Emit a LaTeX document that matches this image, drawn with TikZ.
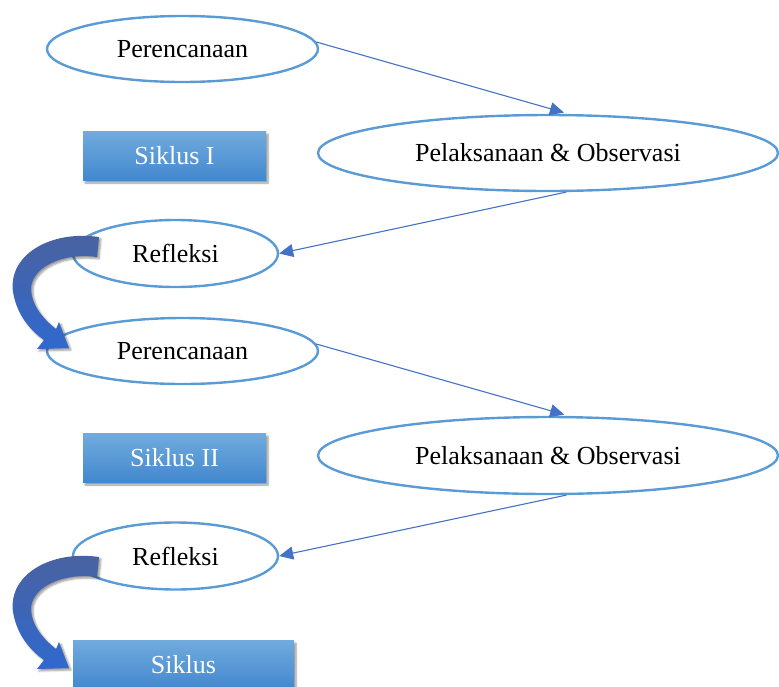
\documentclass[tikz,border=0pt]{standalone}
\usepackage{fontspec}
\setmainfont{Liberation Serif}
\usepackage{tikz}
\usetikzlibrary{shapes.geometric,arrows.meta,shadows.blur}
\definecolor{ringblue}{RGB}{91,155,213}
\definecolor{lineblue}{RGB}{68,114,196}
\definecolor{boxtop}{RGB}{114,171,222}
\definecolor{boxbottom}{RGB}{66,136,206}
\definecolor{bendtop}{RGB}{74,98,158}
\definecolor{bendbottom}{RGB}{48,104,206}

\begin{document}
\begin{tikzpicture}[x=1pt, y=-1pt,
	stage/.style={ellipse, draw=ringblue, line width=2.4pt, inner sep=0pt, font=\fontsize{26}{30}\selectfont},
	cyclebox/.style={rectangle, top color=boxtop, bottom color=boxbottom, text=white, minimum height=49pt, inner sep=0pt,
		font=\fontsize{26}{30}\selectfont, blur shadow={shadow xshift=2pt, shadow yshift=-3pt, shadow blur steps=6}},
	flow/.style={draw=lineblue, line width=1.1pt, -{Triangle[length=14pt,width=13pt]}}]

		\useasboundingbox (0,0) rectangle (779,686);
		\clip (0,0) rectangle (779,686);

		% cycle one
		\node[stage, minimum width=271pt, minimum height=66pt] (plan1) at (182.5,49) {Perencanaan};
		\node[stage, minimum width=460pt, minimum height=76pt] (act1) at (548,153) {Pelaksanaan \& Observasi};
		\node[stage, minimum width=205pt, minimum height=67pt] (refl1) at (175.5,253.5) {Refleksi};
		\node[cyclebox, minimum width=183pt] (cyc1) at (174.5,155.5) {Siklus I};

		% cycle two
		\node[stage, minimum width=271pt, minimum height=66pt] (plan2) at (182.5,351) {Perencanaan};
		\node[stage, minimum width=460pt, minimum height=77pt] (act2) at (548,455.5) {Pelaksanaan \& Observasi};
		\node[stage, minimum width=205pt, minimum height=67pt] (refl2) at (175.5,556) {Refleksi};
		\node[cyclebox, minimum width=183pt] (cyc2) at (174.5,457.5) {Siklus II};

		% last box, cut by the page edge
		\node[cyclebox, minimum width=221pt] (cyc3) at (183.5,664.5) {Siklus};

		% thin arrows
		\draw[flow, shorten >=5pt] (plan1.3) -- (act1.62);
		\draw[flow] (act1.-65) -- (refl1.east);
		\draw[flow, shorten >=5pt] (plan2.3) -- (act2.62);
		\draw[flow] (act2.-65) -- (refl2.east);

		% bent arrows from refleksi down to the next step
		\foreach \dy in {0,320} {
			\shade[shift={(0,\dy)}, top color=bendtop, bottom color=bendbottom,
				blur shadow={shadow xshift=2pt, shadow yshift=-2pt, shadow blur steps=5}]
				(99,237) .. controls (50,230) and (8,255) .. (13,292)
				.. controls (17,315) and (30,330) .. (44,340)
				-- (37,349) -- (69,348) -- (59,322) -- (56,329)
				.. controls (42,318) and (32,305) .. (31,290)
				.. controls (30,268) and (62,252) .. (97,257) -- cycle;
		}

\end{tikzpicture}
\end{document}
